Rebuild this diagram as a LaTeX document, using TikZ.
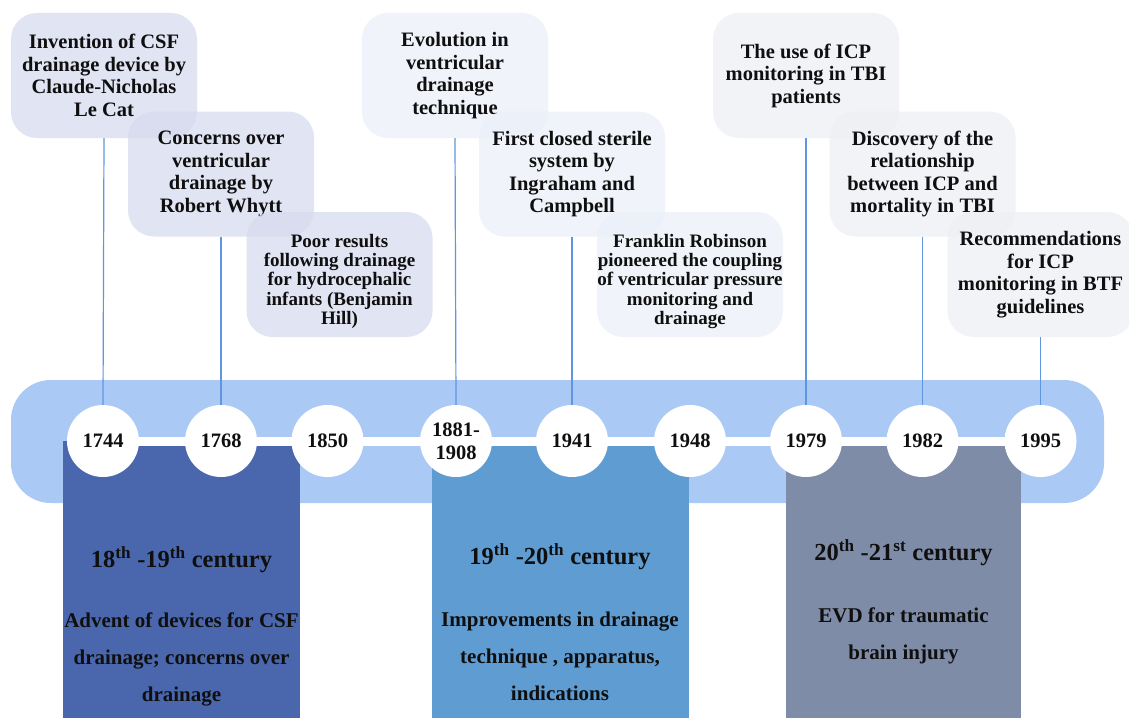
\documentclass[tikz,border=0pt]{standalone}
\usepackage{fontspec}
\setmainfont{Liberation Serif}
\definecolor{bandblue}{RGB}{170,201,244}
\definecolor{eraA}{RGB}{74,103,173}
\definecolor{eraB}{RGB}{95,156,209}
\definecolor{eraC}{RGB}{127,140,167}
\definecolor{linkblue}{RGB}{94,151,223}
\definecolor{noteA}{RGB}{216,219,238}
\definecolor{noteB}{RGB}{235,240,248}
\definecolor{noteC}{RGB}{237,239,244}
\definecolor{ink}{RGB}{15,15,15}
% pushes the first line of a note down a little
\newcommand{\dropline}{\rule{0pt}{27pt}}
\begin{document}
\begin{tikzpicture}[x=1pt,y=-1pt,
  every node/.style={text=ink},
  band/.style={fill=bandblue, rounded corners=40},
  spine/.style={draw=white, line width=9pt},
  year/.style={circle, fill=white, minimum size=72pt, inner sep=0pt, align=center,
    font=\fontsize{20.5}{23}\selectfont\bfseries},
  era/.style={rectangle, minimum width=237pt, minimum height=280pt, anchor=north, inner sep=0pt},
  eratitle/.style={font=\fontsize{24.5}{28}\selectfont\bfseries, inner sep=0pt},
  erabody/.style={font=\fontsize{21}{37}\selectfont\bfseries, align=center, inner sep=0pt},
  note/.style={rounded corners=26pt, minimum width=186pt, minimum height=125pt,
    align=center, inner sep=0pt, fill opacity=0.75, text opacity=1,
    font=\fontsize{20.5}{22.5}\selectfont\bfseries},
  smallnote/.style={note, font=\fontsize{19}{19.2}\selectfont\bfseries},
  link/.style={draw=linkblue, line width=1.2pt},
]
\useasboundingbox (0,0) rectangle (1129,717);
\clip (0,0) rectangle (1129,717);
\fill[white] (0,0) rectangle (1129,717);

% timeline band
\path[band] (11,380) rectangle (1104,503);

% era panels
\node[era, fill=eraA] (p1) at (181.5,441) {};
\node[era, fill=eraB, minimum width=257pt] (p2) at (560,441) {};
\node[era, fill=eraC, minimum width=235pt] (p3) at (903.5,441) {};

\node[eratitle] (t1) at ([yshift=-119pt]p1.north) {18\textsuperscript{th} -19\textsuperscript{th} century};
\node[erabody] (b1) at ([yshift=-218pt]p1.north) {Advent of devices for CSF\\drainage; concerns over\\drainage};
\node[eratitle] (t2) at ([yshift=-116pt]p2.north) {19\textsuperscript{th} -20\textsuperscript{th} century};
\node[erabody] (b2) at ([yshift=-215pt]p2.north) {Improvements in drainage\\technique , apparatus,\\indications};
\node[eratitle] (t3) at ([yshift=-112pt]p3.north) {20\textsuperscript{th} -21\textsuperscript{st} century};
\node[erabody] (b3) at ([yshift=-195pt]p3.north) {EVD for traumatic\\brain injury};

% white spine joining the year markers
\coordinate (s0) at (103,441);
\coordinate (s1) at (1040.5,441);
\draw[spine] (s0) -- (s1);

% year markers
\node[year] (c1) at (103,441) {1744};
\node[year] (c2) at (221,441) {1768};
\node[year] (c3) at (327.5,441) {1850};
\node[year] (c4) at (456,441) {1881-\\1908};
\node[year] (c5) at (572,441) {1941};
\node[year] (c6) at (690,441) {1948};
\node[year] (c7) at (806,441) {1979};
\node[year] (c8) at (922.5,441) {1982};
\node[year] (c9) at (1040.5,441) {1995};

% event notes
\node[note, fill=noteA] (n1) at (104,75.5) {Invention of CSF\\drainage device by\\Claude-Nicholas\\Le Cat};
\node[note, fill=noteA] (n2) at (221,174) {Concerns over\\ventricular\\drainage by\\Robert Whytt};
\node[smallnote, fill=noteA] (n3) at (339.5,274.5) {\dropline Poor results\\following drainage\\for hydrocephalic\\infants (Benjamin\\Hill)};
\node[note, fill=noteB] (n4) at (455,75.5) {Evolution in\\ventricular\\drainage\\technique};
\node[note, fill=noteB] (n5) at (572,174) {First closed sterile\\system by\\Ingraham and\\Campbell};
\node[smallnote, fill=noteB] (n6) at (690,274.5) {\dropline Franklin Robinson\\pioneered the coupling\\of ventricular pressure\\monitoring and\\drainage};
\node[note, fill=noteC] (n7) at (806,75.5) {The use of ICP\\monitoring in TBI\\patients};
\node[note, fill=noteC] (n8) at (922.5,174) {Discovery of the\\relationship\\between ICP and\\mortality in TBI};
\node[note, fill=noteC] (n9) at (1040.5,274.5) {Recommendations\\for ICP\\monitoring in BTF\\guidelines};

% leaders from notes to years
\draw[link] (n1.south) -- (c1.north);
\draw[link] (n2.south) -- (c2.north);
\draw[link] (n4.south) -- (c4.north);
\draw[link] (n5.south) -- (c5.north);
\draw[link] (n7.south) -- (c7.north);
\draw[link] (n8.south) -- (c8.north);
\draw[link] (n9.south) -- (c9.north);
\end{tikzpicture}
\end{document}
